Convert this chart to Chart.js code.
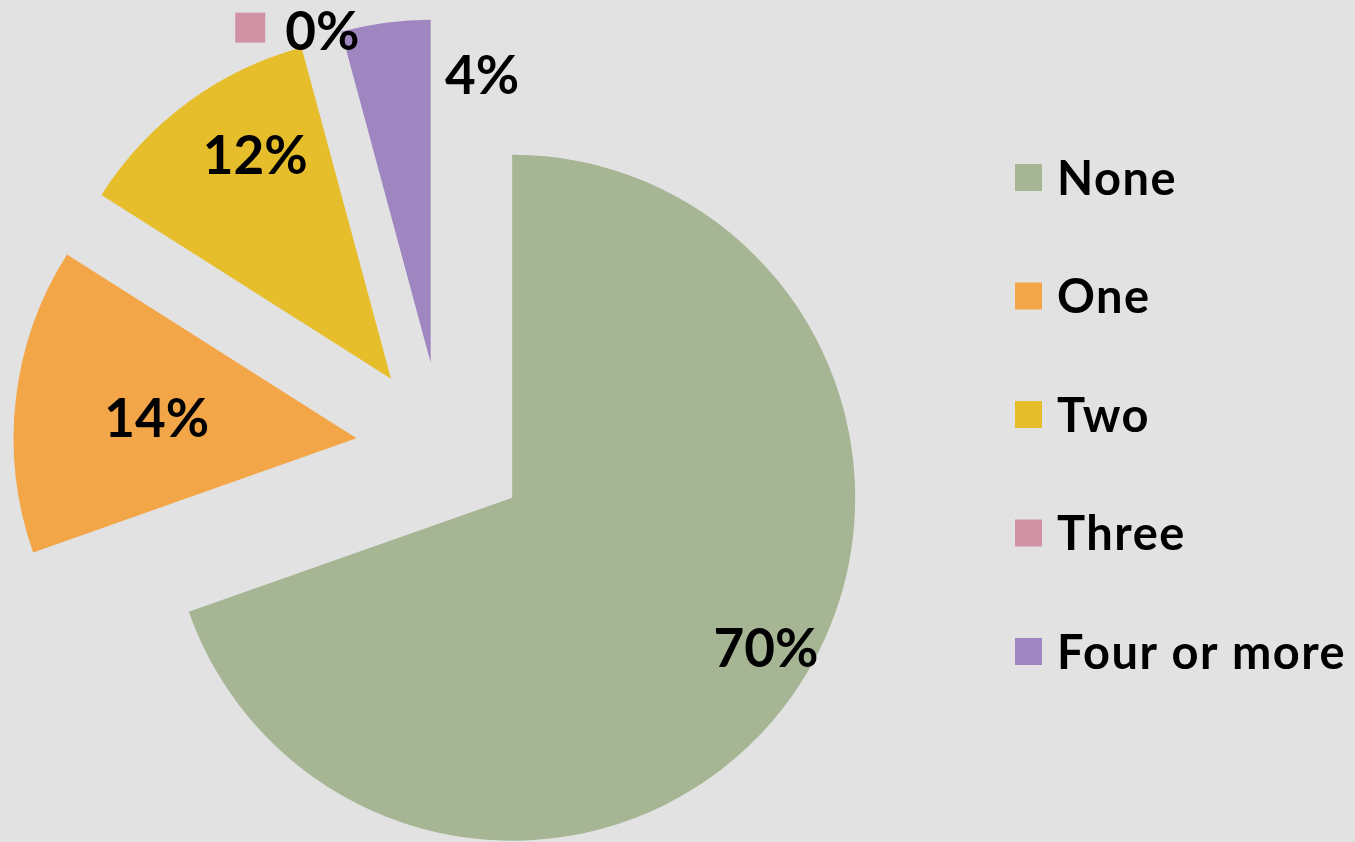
<!DOCTYPE html>
<html>
<head>
<meta charset="utf-8">
<script src="https://cdn.jsdelivr.net/npm/chart.js@4"></script>
<style>
  html, body { margin: 0; padding: 0; background: #e2e2e2; }
  #wrap { width: 1355px; height: 842px; }
</style>
</head>
<body>
<div id="wrap"><canvas id="pie" width="1355" height="842"></canvas></div>
<script>
// ─── Data ────────────────────────────────────────
const categories = ['None', 'One', 'Two', 'Three', 'Four or more'];
const shares = [69.6, 14.4, 11.8, 0, 4.2];
const sliceColors = ['#a6b594', '#f3a648', '#e6bd2b', '#d292a5', '#9f86c1'];

// label placement relative to each exploded slice (angle shift in deg, distance as fraction of radius)
const labelShift = [-4.6, -0.6, 5.1, -1.1, 17.7];
const labelDist = [0.86, 0.586, 0.763, 1.015, 0.851];

const EXPLODE = 86;
const FONT = "'Lato', 'DejaVu Sans', sans-serif";

// ─── Exploded slices: draw library arcs pushed out along their mid angle ──
const explodePlugin = {
  id: 'explode',
  beforeDatasetsDraw(chart) {
    const ctx = chart.ctx;
    chart.getDatasetMeta(0).data.forEach(arc => {
      const mid = (arc.startAngle + arc.endAngle) / 2;
      ctx.save();
      ctx.translate(Math.cos(mid) * EXPLODE, Math.sin(mid) * EXPLODE);
      arc.draw(ctx);
      ctx.restore();
    });
    return false;
  }
};

// ─── Data labels + side legend ───────────────────
const labelPlugin = {
  id: 'labels',
  afterDraw(chart) {
    const ctx = chart.ctx;
    const meta = chart.getDatasetMeta(0);
    ctx.save();
    ctx.font = `bold 53px ${FONT}`;
    ctx.textAlign = 'center';
    ctx.textBaseline = 'alphabetic';
    meta.data.forEach((arc, i) => {
      const mid = (arc.startAngle + arc.endAngle) / 2;
      const vx = arc.x + Math.cos(mid) * EXPLODE;
      const vy = arc.y + Math.sin(mid) * EXPLODE;
      const a = mid + labelShift[i] * Math.PI / 180;
      const r = arc.outerRadius * labelDist[i];
      const x = vx + Math.cos(a) * r;
      const y = vy + Math.sin(a) * r;
      const txt = Math.round(shares[i]) + '%';
      ctx.fillStyle = '#000';
      ctx.fillText(txt, x, y + 19);
      if (shares[i] === 0) {
        // zero slice: show its legend key next to the label
        const w = ctx.measureText(txt).width;
        ctx.fillStyle = sliceColors[i];
        ctx.fillRect(x - w / 2 - 50, y - 18, 30, 30);
      }
    });

    ctx.font = `bold 47px ${FONT}`;
    ctx.letterSpacing = '1.5px';
    ctx.textAlign = 'left';
    categories.forEach((name, i) => {
      const cy = 177.5 + i * 118.5;
      ctx.fillStyle = sliceColors[i];
      ctx.fillRect(1015, cy - 13.5, 27, 27);
      ctx.fillStyle = '#000';
      ctx.fillText(name, 1057, cy + 17);
    });
    ctx.restore();
  }
};

new Chart(document.getElementById('pie'), {
  type: 'pie',
  data: {
    labels: categories,
    datasets: [{
      data: shares,
      backgroundColor: sliceColors,
      borderWidth: 0,
    }],
  },
  options: {
    responsive: false,
    animation: false,
    radius: 343,
    layout: { padding: { left: 0, right: 471, top: 54, bottom: 0 } },
    plugins: {
      legend: { display: false },
      tooltip: { enabled: false },
    },
  },
  plugins: [explodePlugin, labelPlugin],
});
</script>
</body>
</html>
